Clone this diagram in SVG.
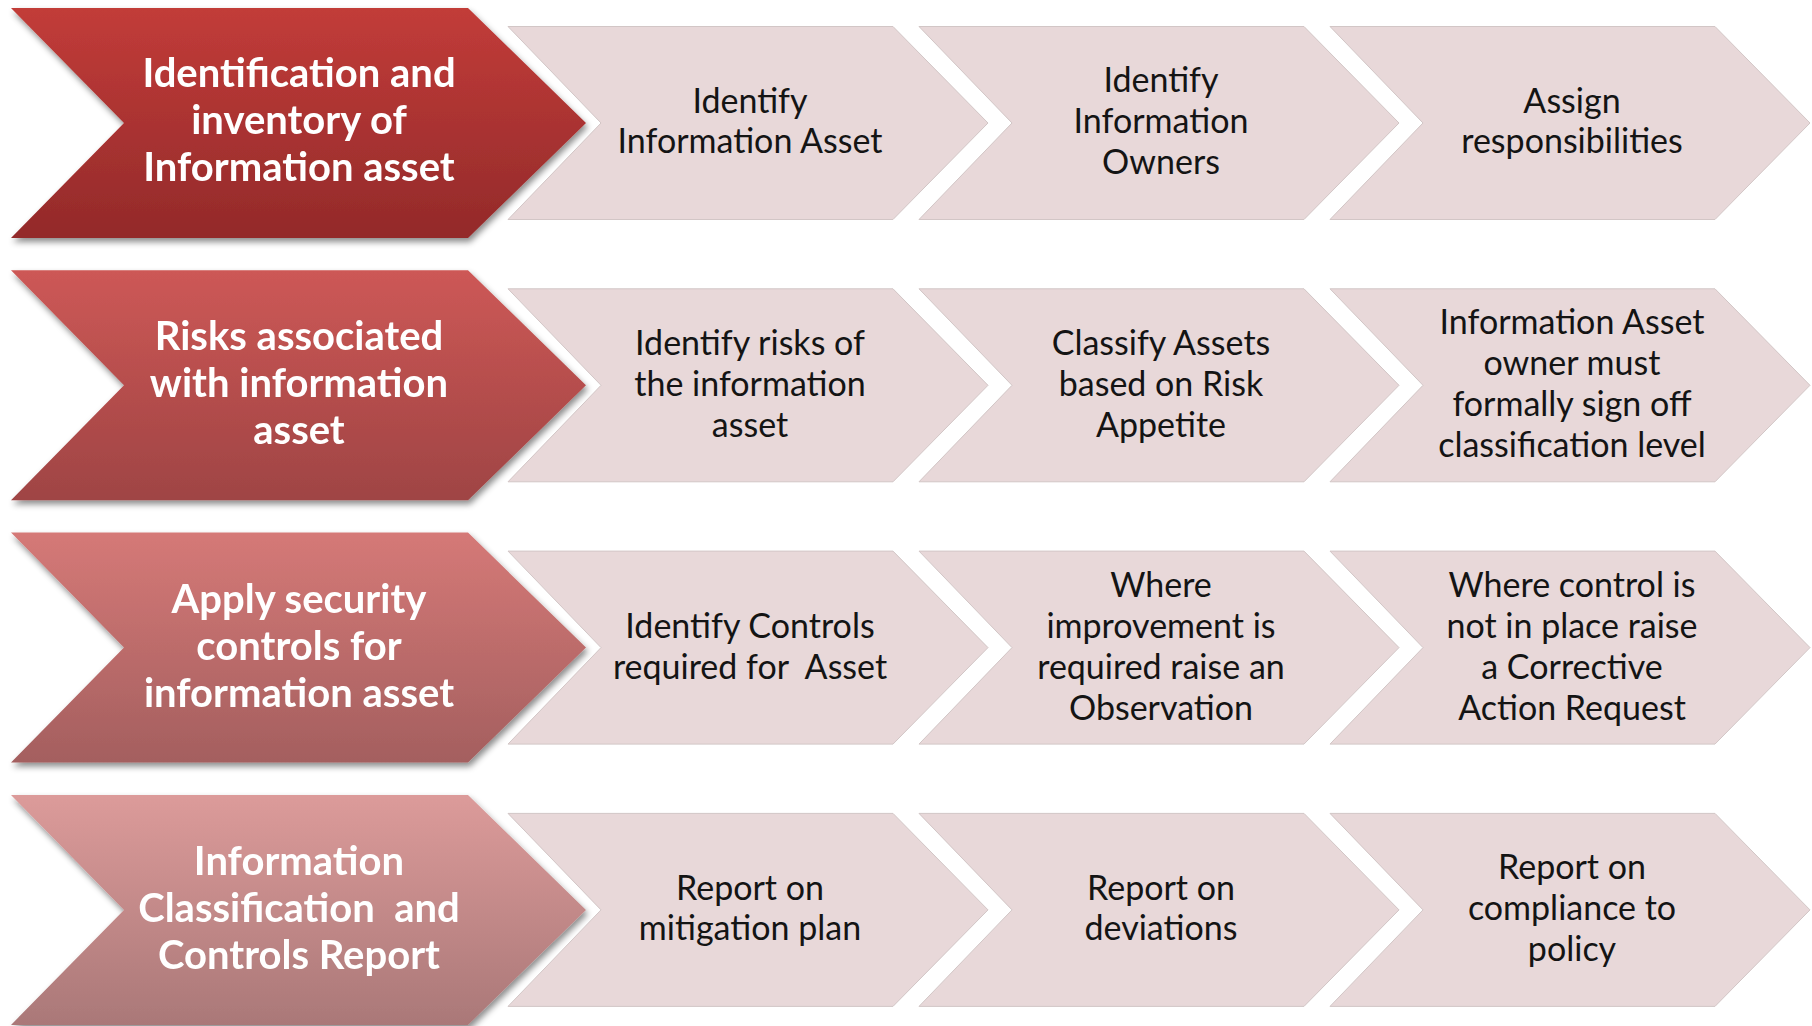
<svg xmlns="http://www.w3.org/2000/svg" xmlns:xlink="http://www.w3.org/1999/xlink" width="1812" height="1026" viewBox="0 0 1812 1026">
<style>
.big{font-family:Lato,"Open Sans","Liberation Sans",sans-serif;font-weight:bold;font-size:40px;fill:#ffffff;text-anchor:middle;white-space:pre}
.sm{font-family:Lato,"Open Sans","Liberation Sans",sans-serif;font-size:34px;fill:#141414;text-anchor:middle;white-space:pre}
.chev{fill:#e8d8d9;stroke:#d2c6c6;stroke-width:1}
</style>
<defs>
<polygon id="bigShape" points="0,0 457,0 575,115 457,230 0,230 113,115"/>
<polygon id="smShape" points="0,0 385,0 480,96.5 385,193 0,193 93,96.5"/>
<linearGradient id="g1" x1="0" y1="0" x2="0" y2="1"><stop offset="0" stop-color="#c23c39"/><stop offset="1" stop-color="#932a2a"/></linearGradient>
<linearGradient id="g2" x1="0" y1="0" x2="0" y2="1"><stop offset="0" stop-color="#cd5856"/><stop offset="1" stop-color="#9f4444"/></linearGradient>
<linearGradient id="g3" x1="0" y1="0" x2="0" y2="1"><stop offset="0" stop-color="#d57977"/><stop offset="1" stop-color="#a45f5f"/></linearGradient>
<linearGradient id="g4" x1="0" y1="0" x2="0" y2="1"><stop offset="0" stop-color="#dc9b9a"/><stop offset="1" stop-color="#aa7878"/></linearGradient>
<filter id="shadow" x="-5%" y="-5%" width="112%" height="115%">
<feDropShadow dx="2" dy="4" stdDeviation="3" flood-color="#000" flood-opacity="0.45"/>
</filter>
</defs>
<rect width="1812" height="1026" fill="#ffffff"/>

<!-- Row 1 -->
<g id="r1-main" filter="url(#shadow)">
<use href="#bigShape" x="11" y="8" fill="url(#g1)"/>
<text class="big" x="299" y="87">Identification and</text>
<text class="big" x="299" y="134">inventory of</text>
<text class="big" x="299" y="181">Information asset</text>
</g>
<g id="r1-s1"><use href="#smShape" x="508" y="26.5" class="chev"/>
<text class="sm" x="750" y="113">Identify</text><text class="sm" x="750" y="153">Information Asset</text></g>
<g id="r1-s2"><use href="#smShape" x="919" y="26.5" class="chev"/>
<text class="sm" x="1161" y="92">Identify</text><text class="sm" x="1161" y="133">Information</text><text class="sm" x="1161" y="174">Owners</text></g>
<g id="r1-s3"><use href="#smShape" x="1330" y="26.5" class="chev"/>
<text class="sm" x="1572" y="113">Assign</text><text class="sm" x="1572" y="153">responsibilities</text></g>

<!-- Row 2 -->
<g id="r2-main" filter="url(#shadow)">
<use href="#bigShape" x="11" y="270.3" fill="url(#g2)"/>
<text class="big" x="299" y="350">Risks associated</text>
<text class="big" x="299" y="397">with information</text>
<text class="big" x="299" y="444">asset</text>
</g>
<g id="r2-s1"><use href="#smShape" x="508" y="288.8" class="chev"/>
<text class="sm" x="750" y="355">Identify risks of</text><text class="sm" x="750" y="396">the information</text><text class="sm" x="750" y="437">asset</text></g>
<g id="r2-s2"><use href="#smShape" x="919" y="288.8" class="chev"/>
<text class="sm" x="1161" y="355">Classify Assets</text><text class="sm" x="1161" y="396">based on Risk</text><text class="sm" x="1161" y="437">Appetite</text></g>
<g id="r2-s3"><use href="#smShape" x="1330" y="288.8" class="chev"/>
<text class="sm" x="1572" y="334">Information Asset</text><text class="sm" x="1572" y="375">owner must</text><text class="sm" x="1572" y="416">formally sign off</text><text class="sm" x="1572" y="457">classification level</text></g>

<!-- Row 3 -->
<g id="r3-main" filter="url(#shadow)">
<use href="#bigShape" x="11" y="532.6" fill="url(#g3)"/>
<text class="big" x="299" y="613">Apply security</text>
<text class="big" x="299" y="660">controls for</text>
<text class="big" x="299" y="707">information asset</text>
</g>
<g id="r3-s1"><use href="#smShape" x="508" y="551.1" class="chev"/>
<text class="sm" x="750" y="638">Identify Controls</text><text class="sm" x="750" y="679">required for  Asset</text></g>
<g id="r3-s2"><use href="#smShape" x="919" y="551.1" class="chev"/>
<text class="sm" x="1161" y="597">Where</text><text class="sm" x="1161" y="638">improvement is</text><text class="sm" x="1161" y="679">required raise an</text><text class="sm" x="1161" y="720">Observation</text></g>
<g id="r3-s3"><use href="#smShape" x="1330" y="551.1" class="chev"/>
<text class="sm" x="1572" y="597">Where control is</text><text class="sm" x="1572" y="638">not in place raise</text><text class="sm" x="1572" y="679">a Corrective</text><text class="sm" x="1572" y="720">Action Request</text></g>

<!-- Row 4 -->
<g id="r4-main" filter="url(#shadow)">
<use href="#bigShape" x="11" y="794.9" fill="url(#g4)"/>
<text class="big" x="299" y="875">Information</text>
<text class="big" x="299" y="922">Classification  and</text>
<text class="big" x="299" y="969">Controls Report</text>
</g>
<g id="r4-s1"><use href="#smShape" x="508" y="813.4" class="chev"/>
<text class="sm" x="750" y="900">Report on</text><text class="sm" x="750" y="940">mitigation plan</text></g>
<g id="r4-s2"><use href="#smShape" x="919" y="813.4" class="chev"/>
<text class="sm" x="1161" y="900">Report on</text><text class="sm" x="1161" y="940">deviations</text></g>
<g id="r4-s3"><use href="#smShape" x="1330" y="813.4" class="chev"/>
<text class="sm" x="1572" y="879">Report on</text><text class="sm" x="1572" y="920">compliance to</text><text class="sm" x="1572" y="961">policy</text></g>

<g id="connectors"/>
</svg>
